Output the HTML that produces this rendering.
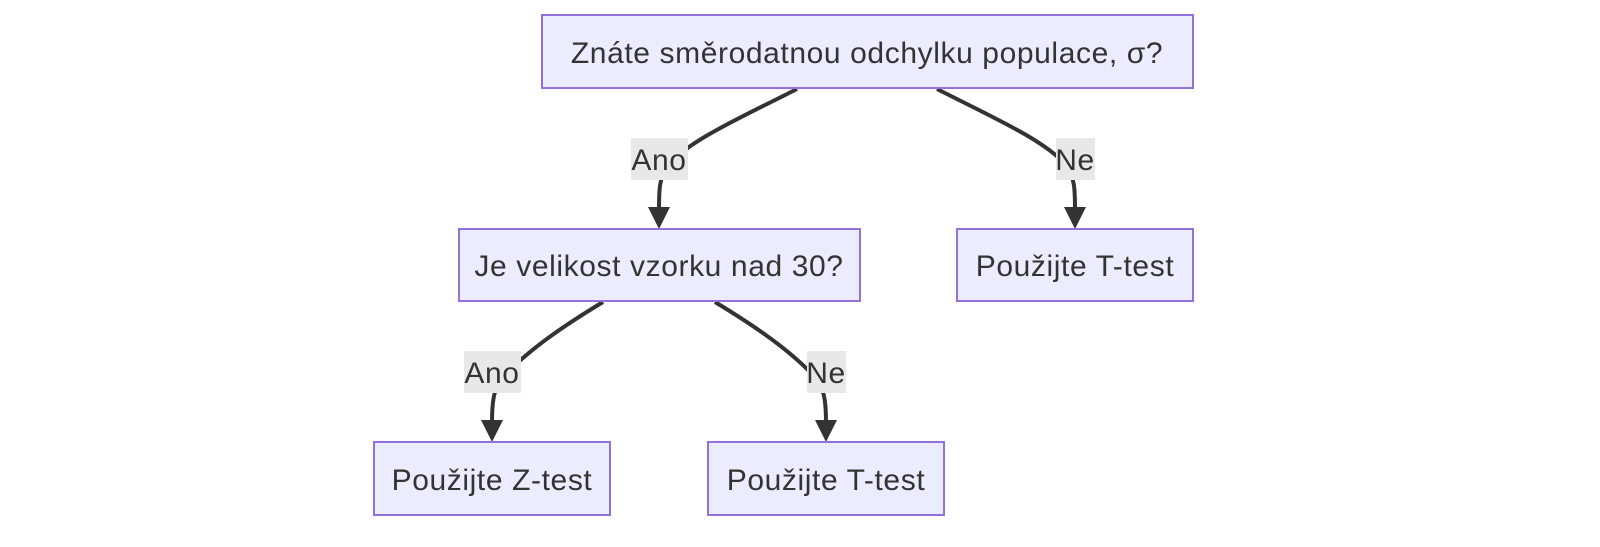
<!DOCTYPE html>
<html><head><meta charset="utf-8"><style>
html,body{margin:0;padding:0;background:#fff;}
svg text{font-family:"Liberation Sans","DejaVu Sans",sans-serif;font-size:30px;letter-spacing:0.6px;fill:#333;}
</style></head><body>
<svg width="1600" height="542" viewBox="0 0 1600 542" xmlns="http://www.w3.org/2000/svg">
<g fill="none" stroke="#333" stroke-width="4">
<path d="M797,89 C740,118 690,140 668,165 C659,178 659,190 659,210"/>
<path d="M937,89 C994,118 1044,140 1066,165 C1075,178 1075,190 1075,210"/>
<path d="M603,302 C570,322 535,345 510,370 C493,385 492,400 492,423"/>
<path d="M715,302 C748,322 783,345 808,370 C825,385 826,400 826,423"/>
</g>
<g fill="#333">
<path d="M648,207 L670,207 L659,229 Z"/>
<path d="M1064,207 L1086,207 L1075,229 Z"/>
<path d="M481,420 L503,420 L492,442 Z"/>
<path d="M815,420 L837,420 L826,442 Z"/>
</g>
<g fill="#e8e8e8">
<rect x="631" y="138" width="57" height="42"/>
<rect x="1056" y="138" width="39" height="42"/>
<rect x="464" y="351" width="57" height="42"/>
<rect x="807" y="351" width="39" height="42"/>
</g>
<g text-anchor="middle">
<text x="659" y="170">Ano</text>
<text x="1075" y="170">Ne</text>
<text x="492" y="383">Ano</text>
<text x="826" y="383">Ne</text>
</g>
<g fill="#ECECFF" stroke="#9370DB" stroke-width="2">
<rect x="542" y="15" width="651" height="73"/>
<rect x="459" y="229" width="401" height="72"/>
<rect x="957" y="229" width="236" height="72"/>
<rect x="374" y="442" width="236" height="73"/>
<rect x="708" y="442" width="236" height="73"/>
</g>
<g text-anchor="middle">
<text x="867" y="63">Znáte směrodatnou odchylku populace, σ?</text>
<text x="659" y="276">Je velikost vzorku nad 30?</text>
<text x="1075" y="276">Použijte T-test</text>
<text x="492" y="490">Použijte Z-test</text>
<text x="826" y="490">Použijte T-test</text>
</g>
</svg>
</body></html>
